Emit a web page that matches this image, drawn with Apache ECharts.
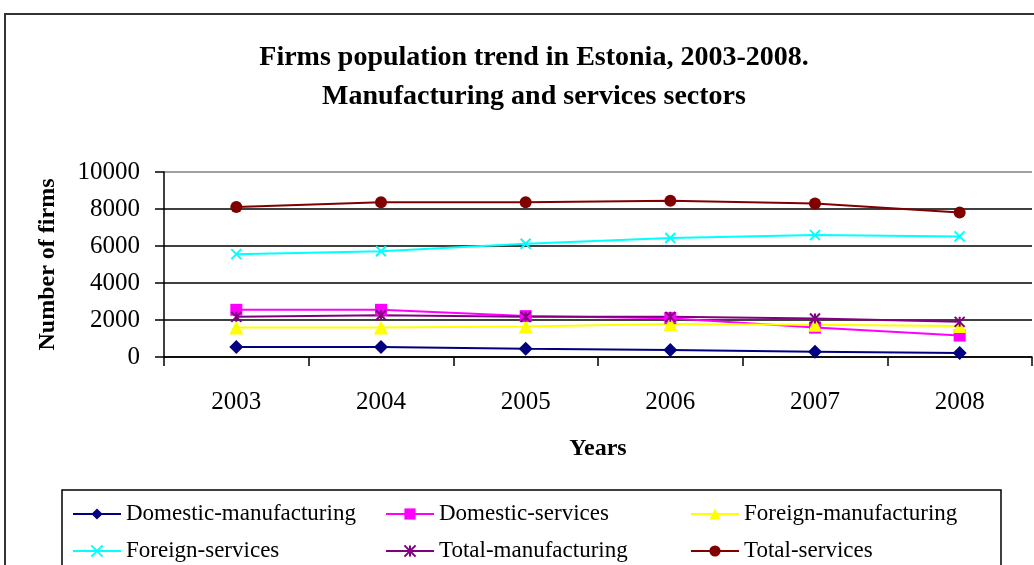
<!DOCTYPE html>
<html lang="en" style="height: 100%">
<head>
    <meta charset="UTF-8">
    <title>Firms population trend in Estonia</title>
    <script src="https://cdn.jsdelivr.net/npm/echarts@6/dist/echarts.min.js"></script>
</head>
<body style="height: 100%; margin: 0;">
    <div id="main" style="width: 1034px; height: 565px"></div>
    <script>
        var years = ['2003', '2004', '2005', '2006', '2007', '2008'];
        var yTicks = [0, 2000, 4000, 6000, 8000, 10000];

        // values
        var domesticManufacturing = [545, 545, 450, 380, 290, 220];
        var domesticServices = [2550, 2550, 2210, 2100, 1590, 1160];
        var foreignManufacturing = [1590, 1590, 1650, 1780, 1740, 1670];
        var foreignServices = [5560, 5720, 6120, 6430, 6590, 6520];
        var totalManufacturing = [2170, 2260, 2170, 2170, 2080, 1900];
        var totalServices = [8110, 8370, 8370, 8440, 8300, 7810];

        var serif = '"Liberation Serif", "DejaVu Serif", serif';
        var myChart = echarts.init(document.getElementById('main'));

        function mkSeries(name, data, color, symbol, size, stroked) {
            return {
                name: name,
                type: 'line',
                data: data,
                symbol: symbol,
                symbolSize: size,
                lineStyle: { color: color, width: 2 },
                itemStyle: stroked ? { color: color, borderColor: color, borderWidth: 2 } : { color: color },
                emphasis: { disabled: true },
                z: 3
            };
        }

        var crossPath = 'path://M0,0L10,10M10,0L0,10';
        var starPath = 'path://M0,0L10,10M10,0L0,10M5,0L5,10';

        // one legend per entry so the columns line up like the original
        function mkLegend(name, left, top) {
            return {
                left: left, top: top, padding: 0,
                itemWidth: 48, itemHeight: 14, itemGap: 5,
                textStyle: { fontFamily: serif, fontSize: 23, color: '#000', lineHeight: 26 },
                data: [name]
            };
        }

        var option = {
            animation: false,
            backgroundColor: '#fff',
            title: {
                text: 'Firms population trend in Estonia, 2003-2008.\nManufacturing and services sectors',
                left: 529,
                top: 33,
                textAlign: 'center',
                textStyle: { fontFamily: serif, fontSize: 28, fontWeight: 'bold', color: '#000', lineHeight: 39 }
            },
            graphic: [
                { type: 'rect', shape: { x: 5, y: 14, width: 1100, height: 700 }, style: { fill: 'none', stroke: '#333', lineWidth: 2 }, silent: true },
                { type: 'rect', shape: { x: 62, y: 490, width: 939, height: 200 }, style: { fill: 'none', stroke: '#000', lineWidth: 1.5 }, silent: true }
            ],
            legend: [
                mkLegend('Domestic-manufacturing', 72, 501),
                mkLegend('Domestic-services', 385, 501),
                mkLegend('Foreign-manufacturing', 690, 501),
                mkLegend('Foreign-services', 72, 538),
                mkLegend('Total-manufacturing', 385, 538),
                mkLegend('Total-services', 690, 538)
            ],
            grid: { left: 164, top: 172, right: 2, height: 185, containLabel: false },
            xAxis: {
                type: 'category',
                data: years,
                boundaryGap: true,
                name: 'Years',
                nameLocation: 'middle',
                nameGap: 80,
                nameTextStyle: { fontFamily: serif, fontSize: 24, fontWeight: 'bold', color: '#000' },
                axisLine: { lineStyle: { color: '#000', width: 1.5 } },
                axisTick: { show: true, length: 9, lineStyle: { color: '#000', width: 1.5 } },
                axisLabel: { fontFamily: serif, fontSize: 25, color: '#000', margin: 33 },
                splitLine: { show: false }
            },
            yAxis: {
                type: 'value',
                min: yTicks[0],
                max: yTicks[yTicks.length - 1],
                interval: 2000,
                name: 'Number of firms',
                nameLocation: 'middle',
                nameRotate: 90,
                nameGap: 104,
                nameTextStyle: { fontFamily: serif, fontSize: 24, fontWeight: 'bold', color: '#000' },
                axisLine: { show: true, lineStyle: { color: '#000', width: 1.5 } },
                axisTick: { show: true, length: 9, lineStyle: { color: '#000', width: 1.5 } },
                axisLabel: { fontFamily: serif, fontSize: 25, color: '#000', margin: 24, formatter: function (v) { return String(v); } },
                splitLine: { show: true, lineStyle: { color: ['#000', '#000', '#000', '#000', '#000', '#808080'], width: 1.5 } }
            },
            series: [
                mkSeries('Domestic-manufacturing', domesticManufacturing, '#000080', 'diamond', 14),
                mkSeries('Domestic-services', domesticServices, '#ff00ff', 'rect', 12),
                mkSeries('Foreign-manufacturing', foreignManufacturing, '#ffff00', 'triangle', 14),
                mkSeries('Foreign-services', foreignServices, '#00ffff', crossPath, 10, true),
                mkSeries('Total-manufacturing', totalManufacturing, '#800080', starPath, 10, true),
                mkSeries('Total-services', totalServices, '#800000', 'circle', 12)
            ]
        };

        myChart.setOption(option);
    </script>
</body>
</html>
